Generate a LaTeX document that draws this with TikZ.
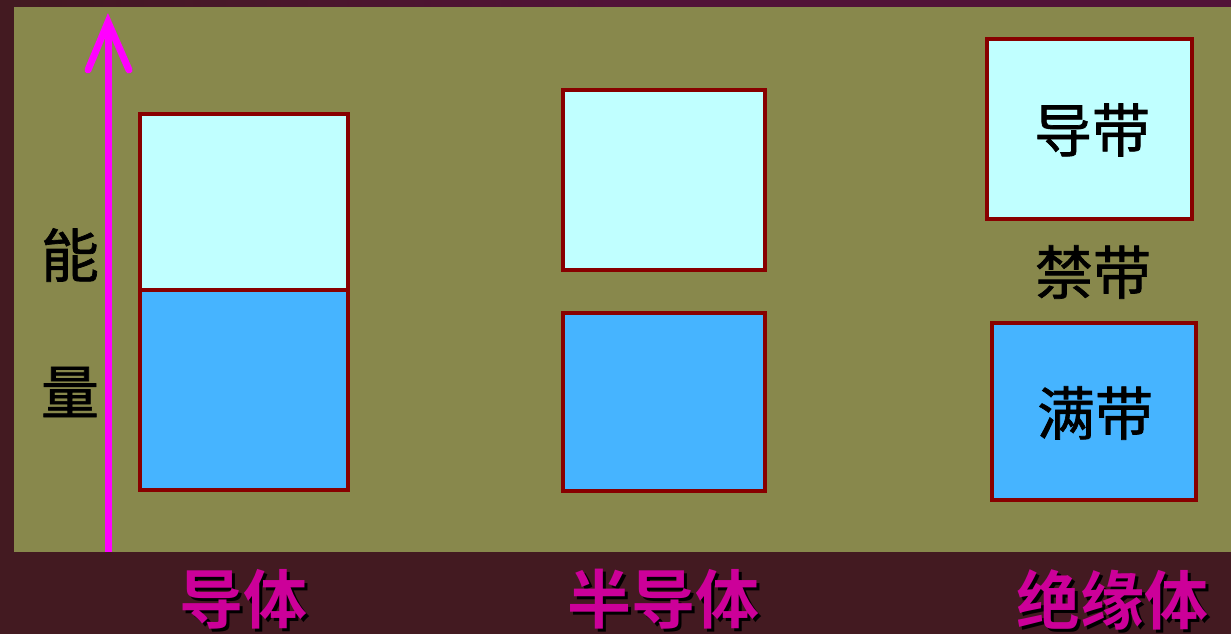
\documentclass[tikz,border=0pt]{standalone}
\usepackage{fontspec}
\newfontfamily\cjk[FakeBold=1.2]{Noto Sans CJK SC}
\newfontfamily\cjkb{Noto Sans CJK SC Bold}
\definecolor{bgdark}{HTML}{431A21}
\definecolor{bgtop}{HTML}{521238}
\definecolor{panel}{HTML}{88884C}
\definecolor{edge}{HTML}{880000}
\definecolor{light}{HTML}{C0FFFF}
\definecolor{full}{HTML}{46B4FF}
\definecolor{arrowc}{HTML}{FF00FF}
\definecolor{labelc}{HTML}{CC0099}
\newcommand{\shadowtext}[1]{\rlap{\hspace{3pt}\raisebox{-3pt}{\textcolor{black}{#1}}}#1}
\tikzset{
  band/.style={draw=edge, line width=4pt},
  blk/.style={inner sep=0pt, font=\cjk\fontsize{58}{58}\selectfont, text=black},
  lbl/.style={inner sep=0pt, font=\cjkb\fontsize{64}{64}\selectfont, text=labelc},
}
\begin{document}
\begin{tikzpicture}[x=1pt,y=-1pt]
\useasboundingbox (0,0) rectangle (1231,634);
\fill[bgdark] (0,0) rectangle (1231,634);
\shade[left color=bgdark, right color=bgtop, middle color=bgtop] (0,0) rectangle (1231,7);
\fill[panel] (14,7) rectangle (1231,552);
% conductor
\fill[light] (140,114) rectangle (348,290);
\fill[full] (140,290) rectangle (348,490);
\draw[band] (140,114) rectangle (348,490);
\draw[band] (140,290) -- (348,290);
% semiconductor
\node[band, fill=light, minimum width=202pt, minimum height=180pt, inner sep=0pt] (sc) at (664,180) {};
\node[band, fill=full, minimum width=202pt, minimum height=178pt, inner sep=0pt] (sv) at (664,402) {};
% insulator
\node[band, fill=light, minimum width=205pt, minimum height=180pt, inner sep=0pt] (ic) at (1089,129) {};
\node[band, fill=full, minimum width=204pt, minimum height=177pt, inner sep=0pt] (iv) at (1094,411) {};
\node[blk] (t1) at (1092,130) {导带};
\node[blk] (t2) at (1093,272) {禁带};
\node[blk] (t3) at (1095,413) {满带};
% energy axis
\coordinate (a0) at (108,552);
\coordinate (a1) at (108,22);
\draw[arrowc, line width=7pt] (a0) -- (a1);
\fill[arrowc] (108,20) -- (114,36) -- (102,36) -- cycle;
\draw[arrowc, line width=7pt, line join=miter, line cap=round] (88,70) -- (108,22) -- (129,70);
\node[blk] (n1) at (70,255) {能};
\node[blk] (n2) at (70,392) {量};
% labels
\node[lbl] (l1) at (243,601) {\shadowtext{导体}};
\node[lbl] (l2) at (663,601) {\shadowtext{半导体}};
\node[lbl] (l3) at (1112,601) {\shadowtext{绝缘体}};
\end{tikzpicture}
\end{document}
